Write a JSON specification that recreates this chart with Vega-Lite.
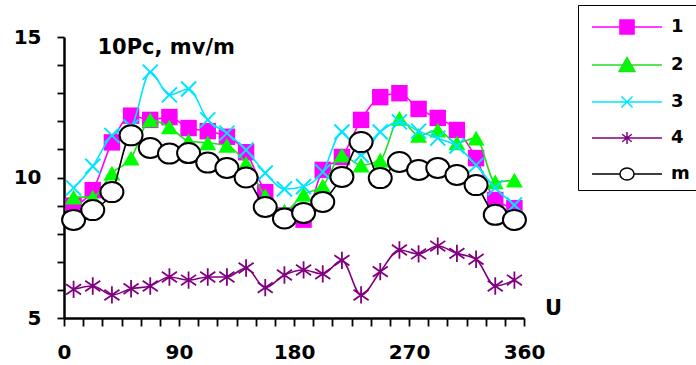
{
  "$schema": "https://vega.github.io/schema/vega-lite/v6.json",
  "width": 460,
  "height": 281,
  "autosize": {"type": "none"},
  "padding": {"left": 64, "top": 37, "right": 172, "bottom": 47},
  "background": "white",
  "config": {"view": {"stroke": null}, "font": "DejaVu Sans"},
  "data": {"values": [
    {"s":"1","x":7.5,"y":9.0},{"s":"1","x":22.5,"y":9.55},{"s":"1","x":37.5,"y":11.25},{"s":"1","x":52.5,"y":12.2},{"s":"1","x":67.5,"y":12.05},{"s":"1","x":82.5,"y":12.15},{"s":"1","x":97.5,"y":11.76},{"s":"1","x":112.5,"y":11.65},{"s":"1","x":127.5,"y":11.45},{"s":"1","x":142.5,"y":10.9},{"s":"1","x":157.5,"y":9.48},{"s":"1","x":172.5,"y":8.65},{"s":"1","x":187.5,"y":8.5},{"s":"1","x":202.5,"y":10.27},{"s":"1","x":217.5,"y":10.73},{"s":"1","x":232.5,"y":12.05},{"s":"1","x":247.5,"y":12.86},{"s":"1","x":262.5,"y":13.0},{"s":"1","x":277.5,"y":12.44},{"s":"1","x":292.5,"y":12.12},{"s":"1","x":307.5,"y":11.69},{"s":"1","x":322.5,"y":10.69},{"s":"1","x":337.5,"y":9.2},{"s":"1","x":352.5,"y":8.91},
    {"s":"2","x":7.5,"y":9.3},{"s":"2","x":22.5,"y":9.3},{"s":"2","x":37.5,"y":10.16},{"s":"2","x":52.5,"y":10.69},{"s":"2","x":67.5,"y":12.05},{"s":"2","x":82.5,"y":11.8},{"s":"2","x":97.5,"y":11.3},{"s":"2","x":112.5,"y":11.23},{"s":"2","x":127.5,"y":11.14},{"s":"2","x":142.5,"y":10.5},{"s":"2","x":157.5,"y":9.35},{"s":"2","x":172.5,"y":8.8},{"s":"2","x":187.5,"y":9.4},{"s":"2","x":202.5,"y":9.7},{"s":"2","x":217.5,"y":10.8},{"s":"2","x":232.5,"y":10.44},{"s":"2","x":247.5,"y":10.62},{"s":"2","x":262.5,"y":12.1},{"s":"2","x":277.5,"y":11.5},{"s":"2","x":292.5,"y":11.69},{"s":"2","x":307.5,"y":11.23},{"s":"2","x":322.5,"y":11.4},{"s":"2","x":337.5,"y":9.84},{"s":"2","x":352.5,"y":9.91},
    {"s":"3","x":7.5,"y":9.63},{"s":"3","x":22.5,"y":10.4},{"s":"3","x":37.5,"y":11.5},{"s":"3","x":52.5,"y":11.8},{"s":"3","x":67.5,"y":13.75},{"s":"3","x":82.5,"y":12.94},{"s":"3","x":97.5,"y":13.15},{"s":"3","x":112.5,"y":12.05},{"s":"3","x":127.5,"y":11.58},{"s":"3","x":142.5,"y":10.98},{"s":"3","x":157.5,"y":10.16},{"s":"3","x":172.5,"y":9.59},{"s":"3","x":187.5,"y":9.68},{"s":"3","x":202.5,"y":10.2},{"s":"3","x":217.5,"y":11.62},{"s":"3","x":232.5,"y":10.8},{"s":"3","x":247.5,"y":11.62},{"s":"3","x":262.5,"y":11.98},{"s":"3","x":277.5,"y":11.65},{"s":"3","x":292.5,"y":11.4},{"s":"3","x":307.5,"y":11.12},{"s":"3","x":322.5,"y":10.44},{"s":"3","x":337.5,"y":9.63},{"s":"3","x":352.5,"y":9.02},
    {"s":"4","x":7.5,"y":6.02},{"s":"4","x":22.5,"y":6.14},{"s":"4","x":37.5,"y":5.82},{"s":"4","x":52.5,"y":6.04},{"s":"4","x":67.5,"y":6.14},{"s":"4","x":82.5,"y":6.46},{"s":"4","x":97.5,"y":6.35},{"s":"4","x":112.5,"y":6.46},{"s":"4","x":127.5,"y":6.46},{"s":"4","x":142.5,"y":6.78},{"s":"4","x":157.5,"y":6.08},{"s":"4","x":172.5,"y":6.53},{"s":"4","x":187.5,"y":6.71},{"s":"4","x":202.5,"y":6.57},{"s":"4","x":217.5,"y":7.05},{"s":"4","x":232.5,"y":5.82},{"s":"4","x":247.5,"y":6.65},{"s":"4","x":262.5,"y":7.42},{"s":"4","x":277.5,"y":7.28},{"s":"4","x":292.5,"y":7.56},{"s":"4","x":307.5,"y":7.3},{"s":"4","x":322.5,"y":7.09},{"s":"4","x":337.5,"y":6.14},{"s":"4","x":352.5,"y":6.35},
    {"s":"m","x":7.5,"y":8.49},{"s":"m","x":22.5,"y":8.84},{"s":"m","x":37.5,"y":9.48},{"s":"m","x":52.5,"y":11.5},{"s":"m","x":67.5,"y":11.05},{"s":"m","x":82.5,"y":10.85},{"s":"m","x":97.5,"y":10.87},{"s":"m","x":112.5,"y":10.53},{"s":"m","x":127.5,"y":10.34},{"s":"m","x":142.5,"y":10.0},{"s":"m","x":157.5,"y":8.95},{"s":"m","x":172.5,"y":8.54},{"s":"m","x":187.5,"y":8.74},{"s":"m","x":202.5,"y":9.13},{"s":"m","x":217.5,"y":10.02},{"s":"m","x":232.5,"y":11.26},{"s":"m","x":247.5,"y":9.98},{"s":"m","x":262.5,"y":10.55},{"s":"m","x":277.5,"y":10.27},{"s":"m","x":292.5,"y":10.34},{"s":"m","x":307.5,"y":10.09},{"s":"m","x":322.5,"y":9.73},{"s":"m","x":337.5,"y":8.67},{"s":"m","x":352.5,"y":8.49}
  ]},
  "encoding": {
    "x": {"field": "x", "type": "quantitative", "scale": {"domain": [0, 360], "nice": false, "zero": false},
      "axis": {"values": [0,15,30,45,60,75,90,105,120,135,150,165,180,195,210,225,240,255,270,285,300,315,330,345,360], "labelExpr": "datum.value % 90 === 0 ? datum.label : ''", "orient": "bottom", "grid": false, "title": "U", "titleX": 489, "titleY": -10, "titleAlign": "center", "titleBaseline": "middle", "titleFont": "DejaVu Sans", "titleFontSize": 21, "titleFontWeight": "bold", "titleColor": "black", "tickSize": 8, "tickWidth": 1.8, "tickColor": "black", "domainColor": "black", "domainWidth": 2.5, "labelFont": "DejaVu Sans", "labelFontSize": 20, "labelFontWeight": "bold", "labelColor": "black", "labelPadding": 16, "labelFlush": false, "labelOverlap": false}},
    "y": {"field": "y", "type": "quantitative", "scale": {"domain": [5, 15], "nice": false, "zero": false},
      "axis": {"values": [5,6,7,8,9,10,11,12,13,14,15], "labelExpr": "datum.value % 5 === 0 ? datum.label : ''", "orient": "left", "grid": false, "title": "10Pc, mv/m", "titleAngle": 0, "titleX": 33, "titleY": 16, "titleAlign": "left", "titleBaseline": "alphabetic", "titleFont": "DejaVu Sans", "titleFontSize": 21, "titleFontWeight": "bold", "titleColor": "black", "tickSize": 7, "tickWidth": 1.8, "tickColor": "black", "domainColor": "black", "domainWidth": 2.5, "labelFont": "DejaVu Sans", "labelFontSize": 20, "labelFontWeight": "bold", "labelColor": "black", "labelPadding": 16, "labelFlush": false, "labelOverlap": false}}
  },
  "layer": [
    {"transform": [{"filter": "datum.s === '1'"}], "mark": {"type": "line", "interpolate": "monotone", "strokeWidth": 1.6, "color": "#FF00FF"}, "encoding": {}},
    {"transform": [{"filter": "datum.s === '1'"}], "mark": {"type": "point", "shape": "square", "filled": true, "color": "#FF00FF", "size": 270, "opacity": 1}},
    {"transform": [{"filter": "datum.s === '2'"}], "mark": {"type": "line", "interpolate": "monotone", "strokeWidth": 1.6, "color": "#22DD22"}, "encoding": {}},
    {"transform": [{"filter": "datum.s === '2'"}], "mark": {"type": "point", "shape": "triangle-up", "filled": true, "color": "#00FF00", "size": 290, "opacity": 1}},
    {"transform": [{"filter": "datum.s === '3'"}], "mark": {"type": "line", "interpolate": "monotone", "strokeWidth": 1.6, "color": "#00E5FF"}, "encoding": {}},
    {"transform": [{"filter": "datum.s === '3'"}], "mark": {"type": "point", "shape": "M-1,-1L1,1M1,-1L-1,1", "filled": false, "color": "#00E5FF", "strokeWidth": 2, "size": 225, "opacity": 1}},
    {"transform": [{"filter": "datum.s === '4'"}], "mark": {"type": "line", "interpolate": "monotone", "strokeWidth": 1.6, "color": "#800080"}, "encoding": {}},
    {"transform": [{"filter": "datum.s === '4'"}], "mark": {"type": "point", "shape": "M-0.87,-0.6L0.87,0.6M0.87,-0.6L-0.87,0.6M0,-1V1", "filled": false, "color": "#800080", "strokeWidth": 1.8, "size": 300, "opacity": 1}},
    {"transform": [{"filter": "datum.s === 'm'"}], "mark": {"type": "line", "interpolate": "monotone", "strokeWidth": 1.6, "color": "black"}, "encoding": {}},
    {"transform": [{"filter": "datum.s === 'm'"}], "mark": {"type": "point", "shape": "M-1.15,0A1.15,1 0 1,1 1.15,0A1.15,1 0 1,1 -1.15,0Z", "fill": "white", "stroke": "black", "strokeWidth": 2, "size": 400, "opacity": 1, "fillOpacity": 1, "strokeOpacity": 1}},
    {
      "mark": {"type": "point", "strokeWidth": 1.5, "size": 0, "opacity": 1},
      "encoding": {
        "shape": {"field": "s", "type": "nominal",
          "scale": {"domain": ["1", "2", "3", "4", "m"], "range": [
            "M-0.53,0H4.13M1.33,-0.47H2.27V0.47H1.33Z",
            "M-0.53,0H4.13M1.8,-0.5L2.33,0.43H1.27Z",
            "M-0.53,0H4.13M1.43,-0.37L2.17,0.37M2.17,-0.37L1.43,0.37",
            "M-0.53,0H4.13M1.48,-0.25L2.12,0.25M2.12,-0.25L1.48,0.25M1.8,-0.4V0.4",
            "M-0.53,0H1.33M2.27,0H4.13M1.33,0A0.47,0.4 0 1,1 2.27,0A0.47,0.4 0 1,1 1.33,0Z"]},
          "legend": {"title": null, "orient": "none", "legendX": 514, "legendY": -32, "symbolSize": 900, "symbolStrokeWidth": 1.5, "labelFont": "DejaVu Sans", "labelFontSize": 18, "labelFontWeight": "bold", "labelColor": "black", "labelOffset": 55, "rowPadding": 11, "padding": 6, "strokeColor": "black", "fillColor": "white"}},
        "stroke": {"field": "s", "type": "nominal",
          "scale": {"domain": ["1", "2", "3", "4", "m"], "range": ["#FF00FF", "#22DD22", "#00E5FF", "#800080", "black"]},
          "legend": {"title": null, "orient": "none", "legendX": 514, "legendY": -32, "symbolSize": 900, "symbolStrokeWidth": 1.5, "labelFont": "DejaVu Sans", "labelFontSize": 18, "labelFontWeight": "bold", "labelColor": "black", "labelOffset": 55, "rowPadding": 11, "padding": 6, "strokeColor": "black", "fillColor": "white"}},
        "fill": {"field": "s", "type": "nominal",
          "scale": {"domain": ["1", "2", "3", "4", "m"], "range": ["#FF00FF", "#00FF00", "transparent", "transparent", "white"]},
          "legend": {"title": null, "orient": "none", "legendX": 514, "legendY": -32, "symbolSize": 900, "symbolStrokeWidth": 1.5, "labelFont": "DejaVu Sans", "labelFontSize": 18, "labelFontWeight": "bold", "labelColor": "black", "labelOffset": 55, "rowPadding": 11, "padding": 6, "strokeColor": "black", "fillColor": "white"}}
      }
    }
  ]
}
